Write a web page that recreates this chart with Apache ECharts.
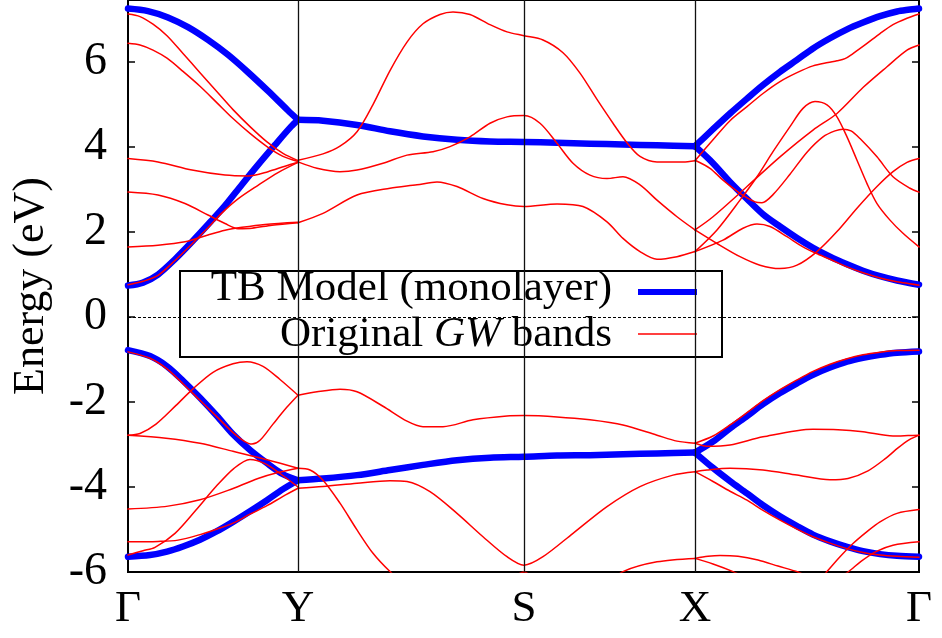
<!DOCTYPE html>
<html>
<head>
<meta charset="utf-8">
<script src="https://cdn.jsdelivr.net/npm/echarts@6/dist/echarts.min.js"></script>
<style>
  html, body { margin: 0; padding: 0; background: #fff; }
  #chart { width: 942px; height: 638px; }
</style>
</head>
<body>
<div id="chart"></div>
<script>
// High-symmetry points along the k-path (path length units)
const kTicks = [0, 170, 396, 567, 791];
const kLabels = ['Γ', 'Y', 'S', 'X', 'Γ'];
const energyTicks = [-6, -4, -2, 0, 2, 4, 6];

// ---- Tight-binding model bands (monolayer), [k, E] ----
const tbCondGY = [
  [[0,7.26],[20,7.20],[40,7.05],[60,6.82],[80,6.52],[100,6.17],[120,5.76],[140,5.32],[160,4.86],[170,4.64]],
  [[0,0.74],[15,0.81],[30,1.00],[47,1.36],[64,1.77],[84,2.28],[97,2.62],[114,3.12],[130,3.58],[147,4.05],[163,4.48],[170,4.64]]
];
const tbCondYSX = [
  [[170,4.64],[195,4.62],[229,4.52],[262,4.37],[295,4.25],[329,4.17],[362,4.13],[396,4.12],[429,4.10],[462,4.08],[495,4.06],[529,4.04],[567,4.02]]
];
const tbCondXG = [
  [[567,4.02],[585,4.42],[602,4.79],[619,5.14],[635,5.46],[652,5.77],[669,6.05],[685,6.32],[702,6.56],[719,6.77],[735,6.93],[752,7.08],[769,7.19],[780,7.23],[791,7.26]],
  [[567,4.02],[585,3.62],[602,3.18],[619,2.78],[635,2.42],[652,2.13],[669,1.86],[685,1.63],[702,1.42],[719,1.24],[735,1.09],[752,0.96],[769,0.86],[791,0.76]]
];
const tbValGY = [
  [[0,-0.78],[22,-0.92],[39,-1.16],[55,-1.50],[72,-1.90],[89,-2.33],[105,-2.76],[122,-3.13],[139,-3.44],[155,-3.70],[170,-3.84]],
  [[0,-5.64],[22,-5.60],[39,-5.52],[55,-5.40],[72,-5.24],[89,-5.04],[105,-4.82],[122,-4.57],[139,-4.31],[155,-4.05],[170,-3.84]]
];
const tbValYSX = [
  [[170,-3.84],[195,-3.80],[229,-3.72],[262,-3.60],[295,-3.48],[329,-3.37],[362,-3.31],[396,-3.29],[429,-3.26],[462,-3.25],[495,-3.23],[529,-3.21],[567,-3.19]]
];
const tbValXG = [
  [[567,-3.19],[585,-2.93],[602,-2.62],[619,-2.33],[635,-2.05],[652,-1.79],[669,-1.56],[685,-1.36],[702,-1.19],[719,-1.05],[735,-0.96],[752,-0.89],[769,-0.84],[791,-0.81]],
  [[567,-3.19],[585,-3.55],[602,-3.86],[619,-4.15],[635,-4.43],[652,-4.69],[669,-4.92],[685,-5.12],[702,-5.28],[719,-5.41],[735,-5.51],[752,-5.58],[769,-5.62],[791,-5.64]]
];

// ---- GW quasiparticle bands, [k, E] ----
const gwCondGY = [
  [[0,7.13],[12,7.07],[25,6.89],[39,6.62],[55,6.20],[72,5.75],[89,5.30],[105,4.88],[122,4.48],[139,4.12],[155,3.85],[170,3.68]],
  [[0,6.44],[12,6.40],[25,6.28],[39,6.09],[55,5.78],[72,5.43],[89,5.04],[105,4.67],[122,4.32],[139,4.01],[155,3.78],[170,3.66]],
  [[0,3.73],[30,3.65],[64,3.46],[97,3.34],[120,3.32],[140,3.42],[157,3.55],[170,3.64]],
  [[0,2.94],[30,2.87],[57,2.67],[80,2.40],[97,2.20],[110,2.08],[124,2.09],[144,2.16],[170,2.22]],
  [[0,1.65],[30,1.69],[57,1.77],[80,1.93],[97,2.04],[114,2.11],[137,2.18],[170,2.23]],
  [[0,0.76],[15,0.84],[30,0.98],[47,1.33],[64,1.72],[80,2.10],[94,2.45],[110,2.78],[130,3.10],[150,3.40],[170,3.64]]
];
const gwCondYSX = [
  [[170,3.69],[195,3.84],[212,4.02],[229,4.36],[245,5.00],[262,5.80],[279,6.47],[295,6.90],[312,7.12],[325,7.18],[342,7.12],[362,6.88],[379,6.71],[396,6.62],[415,6.52],[435,6.22],[452,5.74],[469,5.12],[485,4.56],[499,4.10],[512,3.78],[529,3.65],[555,3.65],[567,3.68]],
  [[170,3.65],[189,3.50],[212,3.42],[229,3.46],[255,3.62],[279,3.81],[305,3.89],[322,4.01],[342,4.24],[362,4.56],[379,4.71],[396,4.74],[412,4.56],[429,4.09],[445,3.62],[462,3.34],[479,3.26],[495,3.30],[512,3.11],[529,2.75],[549,2.36],[567,2.05]],
  [[170,2.22],[195,2.44],[229,2.87],[262,3.03],[289,3.11],[309,3.18],[329,3.07],[355,2.79],[379,2.64],[396,2.60],[429,2.66],[455,2.60],[479,2.24],[495,1.85],[512,1.54],[529,1.36],[549,1.42],[567,1.54]]
];
const gwCondXG = [
  [[567,3.68],[585,4.17],[602,4.62],[619,4.95],[635,5.26],[652,5.54],[669,5.75],[685,5.91],[700,5.99],[709,6.03],[717,6.08],[725,6.20],[738,6.42],[752,6.67],[765,6.88],[779,7.03],[791,7.13]],
  [[567,3.69],[582,3.50],[595,3.22],[612,2.91],[627,2.71],[634,2.69],[645,2.88],[662,3.36],[679,3.88],[695,4.24],[707,4.38],[715,4.42],[723,4.38],[732,4.20],[749,3.77],[765,3.30],[782,3.03],[791,2.94]],
  [[567,1.54],[589,2.05],[612,2.75],[629,3.30],[645,3.89],[662,4.48],[675,4.91],[687,5.07],[699,4.99],[709,4.71],[719,4.24],[729,3.69],[739,3.14],[749,2.67],[762,2.28],[775,1.97],[791,1.65]],
  [[567,2.05],[585,2.36],[619,3.07],[652,3.77],[685,4.40],[709,4.79],[735,5.40],[759,5.89],[779,6.28],[791,6.40]],
  [[567,2.05],[589,1.73],[612,1.42],[632,1.22],[652,1.14],[669,1.22],[689,1.54],[709,2.01],[729,2.56],[749,3.07],[765,3.42],[779,3.64],[791,3.73]],
  [[567,1.54],[595,1.81],[615,2.09],[629,2.19],[642,2.13],[659,1.89],[675,1.65],[688,1.50],[702,1.36],[719,1.18],[735,1.04],[752,0.92],[769,0.83],[791,0.75]]
];
const gwValGY = [
  [[0,-0.82],[22,-0.97],[39,-1.22],[55,-1.57],[72,-1.96],[89,-2.35],[105,-2.72],[116,-2.92],[124,-2.99],[132,-2.90],[145,-2.52],[159,-2.12],[170,-1.84]],
  [[0,-2.78],[12,-2.74],[28,-2.52],[48,-2.08],[65,-1.69],[85,-1.30],[105,-1.10],[119,-1.05],[135,-1.16],[152,-1.47],[170,-1.84]],
  [[0,-2.78],[38,-2.85],[72,-2.97],[105,-3.16],[139,-3.36],[170,-3.56]],
  [[0,-4.52],[40,-4.45],[72,-4.30],[100,-4.08],[130,-3.80],[150,-3.66],[170,-3.56]],
  [[0,-5.60],[15,-5.50],[27,-5.42],[47,-5.09],[68,-4.54],[88,-3.99],[106,-3.56],[122,-3.35],[137,-3.45],[153,-3.70],[170,-4.00]],
  [[0,-5.29],[30,-5.28],[50,-5.25],[72,-5.12],[90,-4.98],[105,-4.85],[122,-4.64],[139,-4.44],[155,-4.22],[170,-4.03]]
];
const gwValYSX = [
  [[170,-1.84],[189,-1.76],[212,-1.70],[229,-1.76],[255,-2.10],[279,-2.45],[295,-2.58],[315,-2.58],[345,-2.42],[379,-2.33],[396,-2.32],[429,-2.35],[462,-2.42],[495,-2.54],[529,-2.78],[549,-2.92],[567,-2.97]],
  [[170,-4.03],[195,-3.99],[229,-3.91],[262,-3.85],[279,-3.87],[302,-4.11],[329,-4.62],[355,-5.17],[379,-5.64],[396,-5.84],[415,-5.64],[445,-5.09],[479,-4.46],[512,-3.99],[545,-3.72],[567,-3.64]],
  [[170,-3.56],[182,-3.60],[195,-3.84],[212,-4.38],[229,-5.01],[245,-5.56],[262,-5.99],[280,-6.35],[330,-6.70],[370,-6.40],[396,-6.00],[420,-6.40],[470,-6.40],[495,-5.99],[529,-5.76],[567,-5.68]]
];
const gwValXG = [
  [[567,-2.97],[585,-2.80],[602,-2.54],[619,-2.25],[635,-1.97],[652,-1.71],[669,-1.48],[685,-1.28],[702,-1.11],[719,-0.98],[735,-0.89],[752,-0.83],[769,-0.79],[791,-0.78]],
  [[567,-2.97],[579,-3.04],[602,-3.01],[635,-2.82],[685,-2.64],[710,-2.65],[735,-2.70],[765,-2.80],[780,-2.79],[791,-2.78]],
  [[567,-3.64],[579,-3.60],[602,-3.56],[635,-3.60],[669,-3.72],[702,-3.83],[720,-3.80],[740,-3.62],[758,-3.32],[770,-3.08],[781,-2.89],[791,-2.78]],
  [[567,-3.64],[585,-3.87],[602,-4.10],[619,-4.31],[635,-4.55],[652,-4.78],[669,-4.99],[685,-5.17],[702,-5.32],[719,-5.45],[735,-5.54],[752,-5.60],[769,-5.63],[791,-5.65]],
  [[567,-5.68],[580,-5.63],[592,-5.61],[610,-5.63],[630,-5.72],[650,-5.86],[670,-6.00],[690,-6.20],[705,-6.20],[720,-6.00],[733,-5.75],[748,-5.52],[765,-5.37],[791,-5.29]],
  [[567,-5.68],[585,-5.81],[605,-5.99],[619,-6.15],[650,-6.50],[680,-6.40],[692,-6.19],[699,-5.99],[712,-5.64],[725,-5.33],[739,-5.05],[752,-4.82],[769,-4.62],[791,-4.53]]
];

const SERIF = 'Liberation Serif';
const BLUE = '#0000ff';
const RED = '#ff0000';

function bandSeries(groups, color, width, z, name) {
  const out = [];
  groups.forEach(g => g.forEach(line => {
    out.push({
      name: name,
      type: 'line',
      data: line,
      smooth: 0.3,
      symbol: 'none',
      showSymbol: false,
      silent: true,
      clip: true,
      z: z,
      lineStyle: { color: color, width: width, cap: 'round', join: 'round' }
    });
  }));
  return out;
}

const tbSeries = bandSeries([tbCondGY, tbCondYSX, tbCondXG, tbValGY, tbValYSX, tbValXG], BLUE, 6.5, 3, 'TB Model (monolayer)');
const gwSeries = bandSeries([gwCondGY, gwCondYSX, gwCondXG, gwValGY, gwValYSX, gwValXG], RED, 1.5, 4, 'Original GW bands');

// Guide lines: symmetry-point verticals and the Fermi level
const guideSeries = {
  type: 'line',
  data: [],
  silent: true,
  z: 1,
  markLine: {
    silent: true,
    symbol: 'none',
    animation: false,
    label: { show: false },
    data: [
      { xAxis: kTicks[1], lineStyle: { color: '#111', width: 1.3, type: 'solid' } },
      { xAxis: kTicks[2], lineStyle: { color: '#111', width: 1.3, type: 'solid' } },
      { xAxis: kTicks[3], lineStyle: { color: '#111', width: 1.3, type: 'solid' } },
      { yAxis: 0, lineStyle: { color: '#000', width: 1, type: [3, 2] } }
    ]
  }
};

const chart = echarts.init(document.getElementById('chart'), null, { renderer: 'canvas' });

const yLabelFmt = v => (energyTicks.indexOf(v) >= 0 ? String(v) : '');

chart.setOption({
  animation: false,
  backgroundColor: '#fff',
  grid: {
    left: 128, right: 23, top: 0, bottom: 66,
    show: true, borderColor: '#000', borderWidth: 2, backgroundColor: 'transparent'
  },
  xAxis: {
    type: 'value',
    min: kTicks[0],
    max: kTicks[kTicks.length - 1],
    axisLine: { show: false },
    axisTick: { show: false },
    splitLine: { show: false },
    axisLabel: {
      customValues: kTicks,
      formatter: v => kLabels[kTicks.indexOf(v)] || '',
      margin: 15,
      color: '#000',
      fontFamily: SERIF,
      fontSize: 45
    }
  },
  yAxis: [
    {
      type: 'value',
      min: -6,
      max: 7.46,
      interval: 2,
      name: 'Energy (eV)',
      nameLocation: 'middle',
      nameRotate: 90,
      nameGap: 75,
      nameTextStyle: { color: '#000', fontFamily: SERIF, fontSize: 44 },
      axisLine: { show: false },
      axisTick: { show: true, inside: true, length: 7, lineStyle: { color: '#000', width: 1.5 } },
      splitLine: { show: false },
      axisLabel: {
        showMaxLabel: false,
        formatter: yLabelFmt,
        margin: 21,
        color: '#000',
        fontFamily: SERIF,
        fontSize: 46
      }
    },
    {
      type: 'value',
      position: 'right',
      min: -6,
      max: 7.46,
      interval: 2,
      axisLine: { show: false },
      axisTick: { show: true, inside: true, length: 7, lineStyle: { color: '#000', width: 1.5 } },
      splitLine: { show: false },
      axisLabel: { show: false }
    }
  ],
  series: [guideSeries].concat(tbSeries, gwSeries),
  graphic: [
    {
      type: 'group',
      z: 100,
      children: [
        { type: 'rect', shape: { x: 180, y: 271, width: 542, height: 86 },
          style: { fill: '#fff', stroke: '#000', lineWidth: 2 } },
        { type: 'text', x: 612, y: 289,
          style: { text: 'TB Model (monolayer)', fill: '#000', fontFamily: SERIF, fontSize: 43,
                   align: 'right', verticalAlign: 'middle' } },
        { type: 'text', x: 612, y: 335,
          style: { text: 'Original {i|GW} bands', fill: '#000', fontFamily: SERIF, fontSize: 43,
                   align: 'right', verticalAlign: 'middle',
                   rich: { i: { fontStyle: 'italic', fontFamily: SERIF, fontSize: 43, fill: '#000' } } } },
        { type: 'line', shape: { x1: 638, y1: 292, x2: 697, y2: 292 },
          style: { stroke: BLUE, lineWidth: 6 } },
        { type: 'line', shape: { x1: 638, y1: 334, x2: 697, y2: 334 },
          style: { stroke: RED, lineWidth: 1.5 } }
      ]
    }
  ]
});
</script>
</body>
</html>
